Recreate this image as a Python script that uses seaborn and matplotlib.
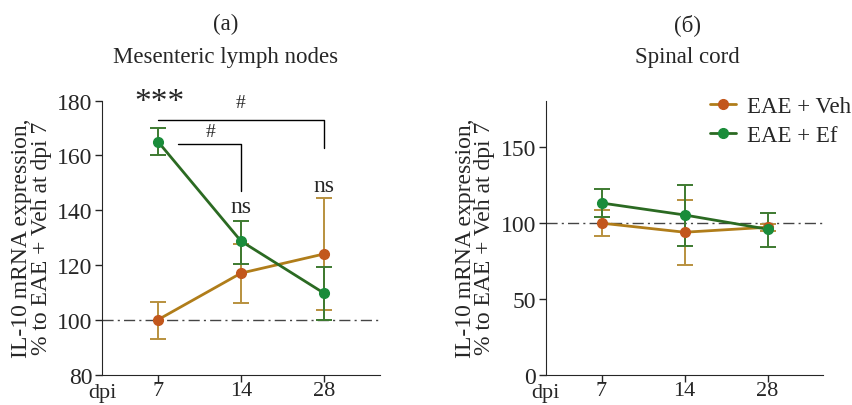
import matplotlib
matplotlib.use("Agg")
import matplotlib.pyplot as plt
import seaborn as sns
import pandas as pd
from matplotlib.lines import Line2D

dpi_labels = ["7", "14", "28"]
groups = ["EAE + Veh", "EAE + Ef"]

# Mesenteric lymph nodes
mln_veh = [100, 117, 124]
mln_veh_lo = [93, 106, 103.5]
mln_veh_hi = [106.5, 127.5, 144.5]
mln_ef = [165, 128.7, 109.7]
mln_ef_lo = [160, 120.3, 99.8]
mln_ef_hi = [169.8, 136.1, 119.3]

# Spinal cord
sc_veh = [100, 94, 97.3]
sc_veh_lo = [91.5, 72.5, 95]
sc_veh_hi = [108.5, 115.5, 99.5]
sc_ef = [113.3, 105.4, 96]
sc_ef_lo = [104.3, 85, 84.5]
sc_ef_hi = [122.6, 125.5, 106.5]

line_cols = {"EAE + Veh": "#b07d1a", "EAE + Ef": "#2b6a22"}
mark_cols = {"EAE + Veh": "#c2571c", "EAE + Ef": "#1a8c3a"}
err_cols = {"EAE + Veh": "#b8903e", "EAE + Ef": "#3d7a30"}

sns.set_style("ticks")
plt.rcParams["font.family"] = ["Liberation Serif", "DejaVu Serif"]
plt.rcParams["font.size"] = 17


def draw_panel(ax, veh, veh_lo, veh_hi, ef, ef_lo, ef_hi):
    pos = list(range(len(dpi_labels)))
    df = pd.DataFrame({
        "pos": pos * 2,
        "val": veh + ef,
        "group": [groups[0]] * 3 + [groups[1]] * 3,
    })
    ax.axhline(100, color="#444444", lw=1, ls=(0, (8, 3, 1.5, 3)), zorder=1)
    for g, v, lo, hi in [(groups[0], veh, veh_lo, veh_hi), (groups[1], ef, ef_lo, ef_hi)]:
        yerr = [[a - b for a, b in zip(v, lo)], [b - a for a, b in zip(v, hi)]]
        ax.errorbar(pos, v, yerr=yerr, fmt="none", ecolor=err_cols[g],
                    elinewidth=1.4, capsize=6, capthick=1.4, zorder=2)
    sns.lineplot(data=df, x="pos", y="val", hue="group", palette=line_cols,
                 lw=2, ax=ax, legend=False, zorder=3)
    for g, v in [(groups[0], veh), (groups[1], ef)]:
        ax.plot(pos, v, "o", ms=7, color=mark_cols[g], zorder=4)
    ax.set_xticks(pos)
    ax.set_xticklabels(dpi_labels)
    ax.set_xlim(-0.67, 2.67)
    ax.set_xlabel("")
    ax.set_ylabel("IL-10 mRNA expression,\n% to EAE + Veh at dpi 7", fontsize=17,
                  linespacing=0.9, labelpad=4)
    ax.tick_params(direction="out", length=5, width=1, labelsize=17, pad=2)
    ax.tick_params(axis="x", labelsize=16, pad=0)
    sns.despine(ax=ax)
    ax.text(0.0, -0.03, "dpi", transform=ax.transAxes, ha="center", va="top",
            fontsize=16)


fig, (ax1, ax2) = plt.subplots(1, 2, figsize=(8.53, 4.06), dpi=100)
fig.subplots_adjust(left=0.12, right=0.965, top=0.75, bottom=0.075, wspace=0.6)

draw_panel(ax1, mln_veh, mln_veh_lo, mln_veh_hi, mln_ef, mln_ef_lo, mln_ef_hi)
ax1.set_ylim(80, 180)
ax1.set_yticks([80, 100, 120, 140, 160, 180])
ax1.text(0.445, 1.28, "(a)", transform=ax1.transAxes, ha="center", va="center",
         fontsize=16.5)
ax1.text(0.445, 1.16, "Mesenteric lymph nodes", transform=ax1.transAxes,
         ha="center", va="center", fontsize=16.5)

draw_panel(ax2, sc_veh, sc_veh_lo, sc_veh_hi, sc_ef, sc_ef_lo, sc_ef_hi)
ax2.set_ylim(0, 181)
ax2.set_yticks([0, 50, 100, 150])
ax2.text(0.51, 1.28, "(\u0431)", transform=ax2.transAxes, ha="center", va="center",
         fontsize=16.5)
ax2.text(0.51, 1.16, "Spinal cord", transform=ax2.transAxes,
         ha="center", va="center", fontsize=16.5)

# significance marks, left panel
k = dict(color="black", lw=1, clip_on=False)
ax1.plot([0, 2, 2], [172.8, 172.8, 162.5], **k)
ax1.plot([0.24, 1, 1], [164.3, 164.3, 147], **k)
ax1.text(0.99, 176, "#", ha="center", va="bottom", fontsize=14)
ax1.text(0.63, 165.5, "#", ha="center", va="bottom", fontsize=14)
ax1.text(1, 141.5, "ns", ha="center", va="center", fontsize=17)
ax1.text(2, 149, "ns", ha="center", va="center", fontsize=17)
ax1.text(0.02, 179.5, "***", ha="center", va="center", fontsize=24)

handles = [Line2D([0], [0], color=line_cols[g], lw=2, marker="o", ms=7,
                  markerfacecolor=mark_cols[g], markeredgecolor=mark_cols[g])
           for g in groups]
ax2.legend(handles, groups, loc="upper left", bbox_to_anchor=(0.56, 1.05),
           frameon=False, fontsize=16.5, handlelength=1.1, handletextpad=0.5,
           labelspacing=0.35, borderaxespad=0)

fig.savefig("out.png", dpi=100)
